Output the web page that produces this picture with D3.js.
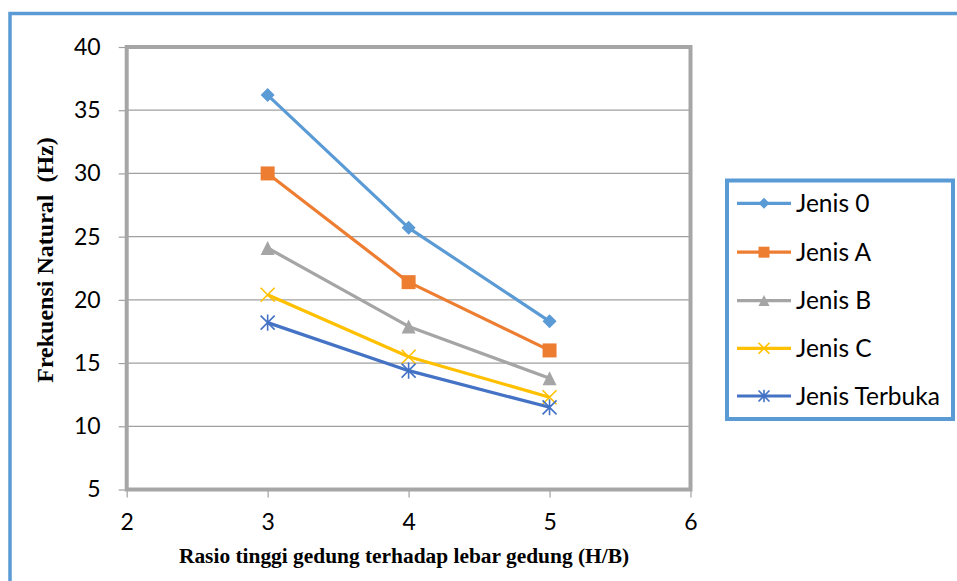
<!DOCTYPE html>
<html>
<head>
<meta charset="utf-8">
<script src="https://cdn.jsdelivr.net/npm/d3@7"></script>
<style>
  html, body { margin: 0; padding: 0; background: #ffffff; }
  svg { display: block; }
</style>
</head>
<body>
<svg id="chart" width="957" height="581"></svg>
<script>
// Rasio H/B on the x axis, natural frequency (Hz) per structure type
const ratios = [3, 4, 5];
const seriesNames = ["Jenis 0", "Jenis A", "Jenis B", "Jenis C", "Jenis Terbuka"];
const jenis0 = [36.2, 25.7, 18.3];
const jenisA = [30.0, 21.4, 16.0];
const jenisB = [24.1, 17.9, 13.8];
const jenisC = [20.4, 15.5, 12.3];
const jenisTerbuka = [18.2, 14.4, 11.5];
const xTicks = [2, 3, 4, 5, 6];
const yTicks = [5, 10, 15, 20, 25, 30, 35, 40];

const colors = ["#5B9BD5", "#ED7D31", "#A5A5A5", "#FFC000", "#4472C4"];
const markers = ["diamond", "square", "triangle", "x", "star"];
const values = [jenis0, jenisA, jenisB, jenisC, jenisTerbuka];

const svg = d3.select("#chart");

// chart area frame
svg.append("rect")
  .attr("x", 10).attr("y", 13.5)
  .attr("width", 1000).attr("height", 700)
  .attr("fill", "#ffffff")
  .attr("stroke", "#5B9BD5")
  .attr("stroke-width", 3.5);

const plot = { left: 126.7, right: 690.5, top: 47, bottom: 489.5 };

const x = d3.scaleLinear().domain([2, 6]).range([plot.left, plot.right]);
const y = d3.scaleLinear().domain([5, 40]).range([plot.bottom, plot.top]);

const tickFont = "Lato, 'Open Sans', sans-serif";

// horizontal gridlines
svg.append("g")
  .selectAll("line")
  .data(yTicks.filter(v => v > 5 && v < 40))
  .join("line")
  .attr("x1", plot.left).attr("x2", plot.right)
  .attr("y1", d => y(d)).attr("y2", d => y(d))
  .attr("stroke", "#A0A0A0")
  .attr("stroke-width", 1.2);

// y axis
const yAxis = svg.append("g")
  .attr("transform", `translate(${plot.left},0)`)
  .call(d3.axisLeft(y).tickValues(yTicks).tickSize(8).tickPadding(18).tickFormat(d3.format("d")));
yAxis.select(".domain").remove();
yAxis.selectAll(".tick line").attr("stroke", "#A0A0A0").attr("stroke-width", 1.2);
yAxis.selectAll(".tick text")
  .attr("font-family", tickFont).attr("font-size", 23).attr("fill", "#000");

// x axis
const xAxis = svg.append("g")
  .attr("transform", `translate(0,${plot.bottom})`)
  .call(d3.axisBottom(x).tickValues(xTicks).tickSize(8).tickPadding(16).tickFormat(d3.format("d")));
xAxis.select(".domain").remove();
xAxis.selectAll(".tick line").attr("stroke", "#A0A0A0").attr("stroke-width", 1.2);
xAxis.selectAll(".tick text")
  .attr("font-family", tickFont).attr("font-size", 23).attr("fill", "#000");

// plot area border
svg.append("rect")
  .attr("x", plot.left).attr("y", plot.top)
  .attr("width", plot.right - plot.left).attr("height", plot.bottom - plot.top)
  .attr("fill", "none")
  .attr("stroke", "#A6A6A6")
  .attr("stroke-width", 4);

// axis titles
svg.append("text")
  .attr("x", 404).attr("y", 563)
  .attr("text-anchor", "middle")
  .attr("font-family", "'Liberation Serif', 'Times New Roman', serif")
  .attr("font-weight", "bold").attr("font-size", 21.4)
  .text("Rasio tinggi gedung terhadap lebar gedung (H/B)");

svg.append("text")
  .attr("transform", "translate(53,260) rotate(-90)")
  .attr("text-anchor", "middle")
  .attr("font-family", "'Liberation Serif', 'Times New Roman', serif")
  .attr("font-weight", "bold").attr("font-size", 24)
  .style("white-space", "pre")
  .text("Frekuensi Natural  (Hz)");

// marker drawing
function drawMarker(g, type, color, s) {
  const r = s / 2;
  if (type === "diamond") {
    g.append("path").attr("d", `M0,${-r}L${r},0L0,${r}L${-r},0Z`).attr("fill", color);
  } else if (type === "square") {
    g.append("rect").attr("x", -r).attr("y", -r).attr("width", s).attr("height", s).attr("fill", color);
  } else if (type === "triangle") {
    g.append("path").attr("d", `M0,${-r}L${r},${r}L${-r},${r}Z`).attr("fill", color);
  } else if (type === "x") {
    g.append("path").attr("d", `M${-r},${-r}L${r},${r}M${-r},${r}L${r},${-r}`)
      .attr("stroke", color).attr("stroke-width", 1.6).attr("fill", "none");
  } else if (type === "star") {
    g.append("path").attr("d", `M${-r},${-r}L${r},${r}M${-r},${r}L${r},${-r}M0,${-r * 1.15}L0,${r * 1.15}`)
      .attr("stroke", color).attr("stroke-width", 1.6).attr("fill", "none");
  }
}

const line = d3.line().x((d, i) => x(ratios[i])).y(d => y(d));

values.forEach((vals, si) => {
  const g = svg.append("g");
  g.append("path")
    .attr("d", line(vals))
    .attr("fill", "none")
    .attr("stroke", colors[si])
    .attr("stroke-width", 3.2)
    .attr("stroke-linejoin", "round");
  vals.forEach((v, i) => {
    const mg = g.append("g").attr("transform", `translate(${x(ratios[i])},${y(v)})`);
    drawMarker(mg, markers[si], colors[si], 14);
  });
});

// legend
const legend = svg.append("g");
legend.append("rect")
  .attr("x", 727).attr("y", 180.5)
  .attr("width", 226).attr("height", 238.5)
  .attr("fill", "#ffffff")
  .attr("stroke", "#5B9BD5")
  .attr("stroke-width", 4);

const legendRows = [203.3, 252.2, 300.6, 348.3, 396];
seriesNames.forEach((name, i) => {
  const row = legend.append("g").attr("transform", `translate(0,${legendRows[i]})`);
  row.append("line")
    .attr("x1", 737).attr("x2", 791).attr("y1", 0).attr("y2", 0)
    .attr("stroke", colors[i]).attr("stroke-width", 3.2);
  const mg = row.append("g").attr("transform", "translate(764,0)");
  drawMarker(mg, markers[i], colors[i], 11);
  row.append("text")
    .attr("x", 796).attr("y", 0).attr("dy", "0.36em")
    .attr("font-family", tickFont).attr("font-size", 24.5).attr("fill", "#000")
    .text(name);
});
</script>
</body>
</html>
